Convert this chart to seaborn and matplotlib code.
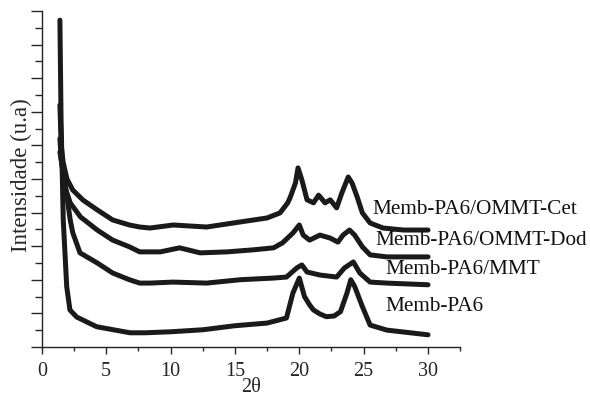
import numpy as np
import pandas as pd
import matplotlib
matplotlib.use("Agg")
import matplotlib.pyplot as plt
import seaborn as sns
from matplotlib.ticker import MultipleLocator

labels = ["Memb-PA6/OMMT-Cet", "Memb-PA6/OMMT-Dod", "Memb-PA6/MMT", "Memb-PA6"]

cet_x = [1.4, 1.45, 1.5, 1.65, 1.95, 2.4, 3.2, 4.3, 5.5, 6.8, 7.6, 8.4, 10.2, 12.8, 15.4, 17.5, 18.5, 19.1,
         19.3, 19.7, 19.9, 20.2, 20.6, 21.1, 21.5, 22.0, 22.4, 22.9, 23.3, 23.8, 24.1, 24.5, 24.9, 25.5,
         26.5, 28.1, 30.0]
cet_y = [7.2, 6.6, 6.0, 5.5, 5.0, 4.67, 4.37, 4.08, 3.78, 3.63, 3.57, 3.54, 3.63, 3.57, 3.72, 3.84, 3.99, 4.29,
         4.46, 4.88, 5.33, 4.97, 4.38, 4.29, 4.52, 4.29, 4.38, 4.14, 4.58, 5.06, 4.88, 4.46, 3.99, 3.69,
         3.54, 3.48, 3.48]

dod_x = [1.4, 1.5, 1.8, 2.2, 3.0, 4.3, 5.5, 6.8, 7.6, 9.2, 10.7, 12.3, 14.4, 16.4, 18.0, 18.7, 19.5, 20.0,
         20.3, 20.8, 21.6, 22.4, 23.0, 23.4, 23.9, 24.3, 24.9, 25.5, 26.8, 30.0]
dod_y = [6.2, 5.6, 4.76, 4.29, 3.87, 3.48, 3.18, 2.98, 2.83, 2.83, 2.95, 2.80, 2.83, 2.89, 2.95, 3.10, 3.39, 3.63,
         3.33, 3.18, 3.33, 3.24, 3.12, 3.33, 3.48, 3.33, 2.98, 2.74, 2.68, 2.68]

mmt_x = [1.4, 1.57, 1.95, 2.2, 2.4, 2.96, 4.3, 5.5, 6.8, 7.6, 8.4, 10.2, 12.8, 15.4, 18.0, 19.0, 19.8, 20.2,
         20.6, 21.6, 22.9, 23.5, 24.2, 24.7, 25.5, 26.8, 30.0]
mmt_y = [5.8, 5.4, 4.47, 3.78, 3.4, 2.8, 2.5, 2.2, 2.0, 1.90, 1.90, 1.93, 1.90, 2.00, 2.05, 2.08, 2.35, 2.44,
         2.23, 2.14, 2.08, 2.35, 2.53, 2.20, 1.93, 1.90, 1.85]

pa6_x = [1.4, 1.49, 1.66, 1.93, 2.18, 2.7, 4.26, 6.85, 8.0, 10.0, 12.5, 15.0, 17.5, 19.0, 19.5, 20.0, 20.4,
         20.8, 21.1, 21.6, 22.1, 22.7, 23.2, 23.7, 24.0, 24.3, 24.9, 25.5, 26.8, 30.0]
pa6_y = [9.73, 6.76, 3.78, 1.79, 1.10, 0.89, 0.60, 0.42, 0.42, 0.45, 0.51, 0.63, 0.71, 0.86, 1.6, 2.05, 1.5,
         1.25, 1.1, 0.98, 0.9, 0.92, 1.05, 1.6, 2.0, 1.8, 1.2, 0.65, 0.5, 0.36]

label_x = [25.7, 25.9, 26.7, 26.7]
label_y = [4.08, 3.18, 2.29, 1.19]

x_ticks = [0, 5, 10, 15, 20, 25, 30]

frames = []
for name, xs, ys in zip(labels, [cet_x, dod_x, mmt_x, pa6_x], [cet_y, dod_y, mmt_y, pa6_y]):
    frames.append(pd.DataFrame({"x": xs, "y": ys, "sample": name}))
df = pd.concat(frames, ignore_index=True)

sns.set_style("ticks")
plt.rcParams["font.family"] = ["Liberation Serif", "DejaVu Serif"]

fig = plt.figure(figsize=(5.9, 3.96), dpi=100)
ax = fig.add_axes([0.071, 0.124, 0.709, 0.848])

sns.lineplot(data=df, x="x", y="y", hue="sample", palette=["#1a1a1a"] * 4,
             linewidth=3.6, legend=False, ax=ax, sort=False, estimator=None)

for name, lx, ly in zip(labels, label_x, label_y):
    ax.text(lx, ly, name, fontsize=15.3, va="center", ha="left", color="#111111")

ax.set_xlim(0, 32.5)
ax.set_ylim(0, 10)
ax.set_xticks(x_ticks)
ax.xaxis.set_minor_locator(MultipleLocator(2.5))
ax.yaxis.set_major_locator(MultipleLocator(1))
ax.yaxis.set_minor_locator(MultipleLocator(0.5))
ax.set_yticklabels([])
ax.tick_params(axis="x", which="major", length=5, width=1, labelsize=14.5, direction="out", pad=6)
ax.tick_params(axis="x", which="minor", length=3, width=1, direction="out")
ax.tick_params(axis="y", which="major", length=8, width=1, direction="out")
ax.tick_params(axis="y", which="minor", length=5, width=1, direction="out")
sns.despine(ax=ax)
for s in ["left", "bottom"]:
    ax.spines[s].set_linewidth(1.0)
    ax.spines[s].set_color("#222222")

ax.set_xlabel("2θ", fontsize=14.5)
ax.set_ylabel("Intensidade (u.a)", fontsize=16.5)
ax.xaxis.set_label_coords(0.5, -0.092)
ax.yaxis.set_label_coords(-0.024, 0.512)

fig.savefig("out.png", dpi=100)
